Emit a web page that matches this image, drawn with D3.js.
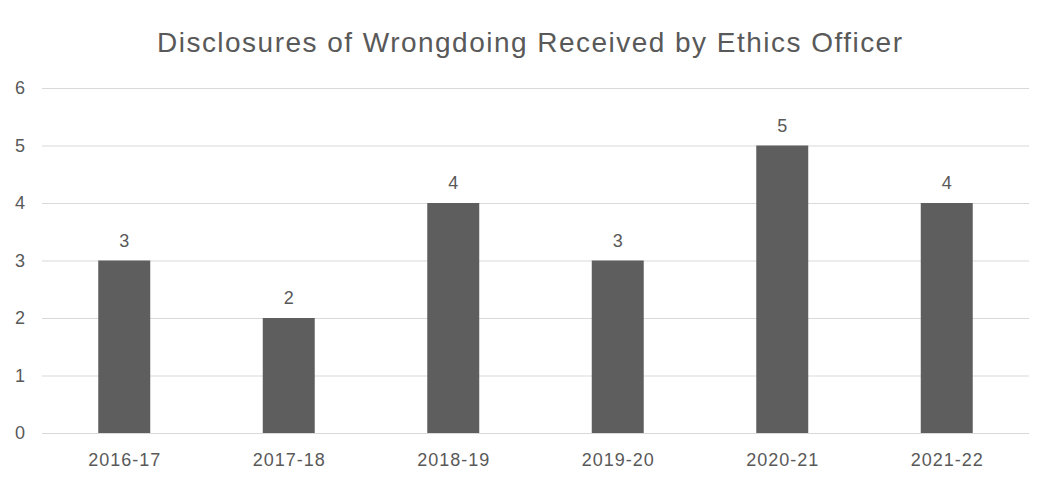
<html>
<script src="https://d3js.org/d3.v7.min.js"></script>
<style>
body { margin: 0; background: #fff; }
svg text { font-family: "Liberation Sans", Arial, sans-serif; fill: #595959; letter-spacing: 1px; }
</style>
<body>
<svg width="1040" height="479" id="chart"></svg>
<script>
var years = ["2016-17", "2017-18", "2018-19", "2019-20", "2020-21", "2021-22"];
var counts = [3, 2, 4, 3, 5, 4];
var yTicks = [0, 1, 2, 3, 4, 5, 6];
var title = "Disclosures of Wrongdoing Received by Ethics Officer";

var svg = d3.select("#chart");

var x = d3.scaleBand()
    .domain(years)
    .range([42, 1029])
    .paddingInner(0.684)
    .paddingOuter(0.342);

var y = d3.scaleLinear()
    .domain([0, 6])
    .range([433, 88]);

// gridlines
svg.append("g")
  .selectAll("line")
  .data(yTicks)
  .enter()
  .append("line")
  .attr("x1", 42).attr("x2", 1029)
  .attr("y1", function(d) { return y(d) + 0.5; })
  .attr("y2", function(d) { return y(d) + 0.5; })
  .attr("stroke", "#d9d9d9")
  .attr("stroke-width", 1);

// y labels
svg.append("g")
  .selectAll("text")
  .data(yTicks)
  .enter()
  .append("text")
  .attr("x", 26)
  .attr("y", function(d) { return y(d); })
  .attr("dy", "0.36em")
  .attr("text-anchor", "end")
  .style("font-size", "18px")
  .text(function(d) { return d; });

// bars
svg.append("g")
  .selectAll("rect")
  .data(counts)
  .enter()
  .append("rect")
  .attr("x", function(d, i) { return x(years[i]); })
  .attr("width", x.bandwidth())
  .attr("y", function(d) { return y(d); })
  .attr("height", function(d) { return y(0) - y(d); })
  .attr("fill", "#5e5e5e");

// value labels
svg.append("g")
  .selectAll("text")
  .data(counts)
  .enter()
  .append("text")
  .attr("x", function(d, i) { return x(years[i]) + x.bandwidth() / 2 + 0.5; })
  .attr("y", function(d) { return y(d) - 14; })
  .attr("text-anchor", "middle")
  .style("font-size", "18px")
  .text(function(d) { return d; });

// x labels
svg.append("g")
  .selectAll("text")
  .data(years)
  .enter()
  .append("text")
  .attr("x", function(d) { return x(d) + x.bandwidth() / 2 + 0.5; })
  .attr("y", 466)
  .attr("text-anchor", "middle")
  .style("font-size", "18px")
  .text(function(d) { return d; });

svg.append("text")
  .attr("x", 157)
  .attr("y", 52)
  .attr("textLength", 745)
  .attr("lengthAdjust", "spacing")
  .style("font-size", "28px")
  .style("letter-spacing", "0px")
  .text(title);
</script>
</body>
</html>
